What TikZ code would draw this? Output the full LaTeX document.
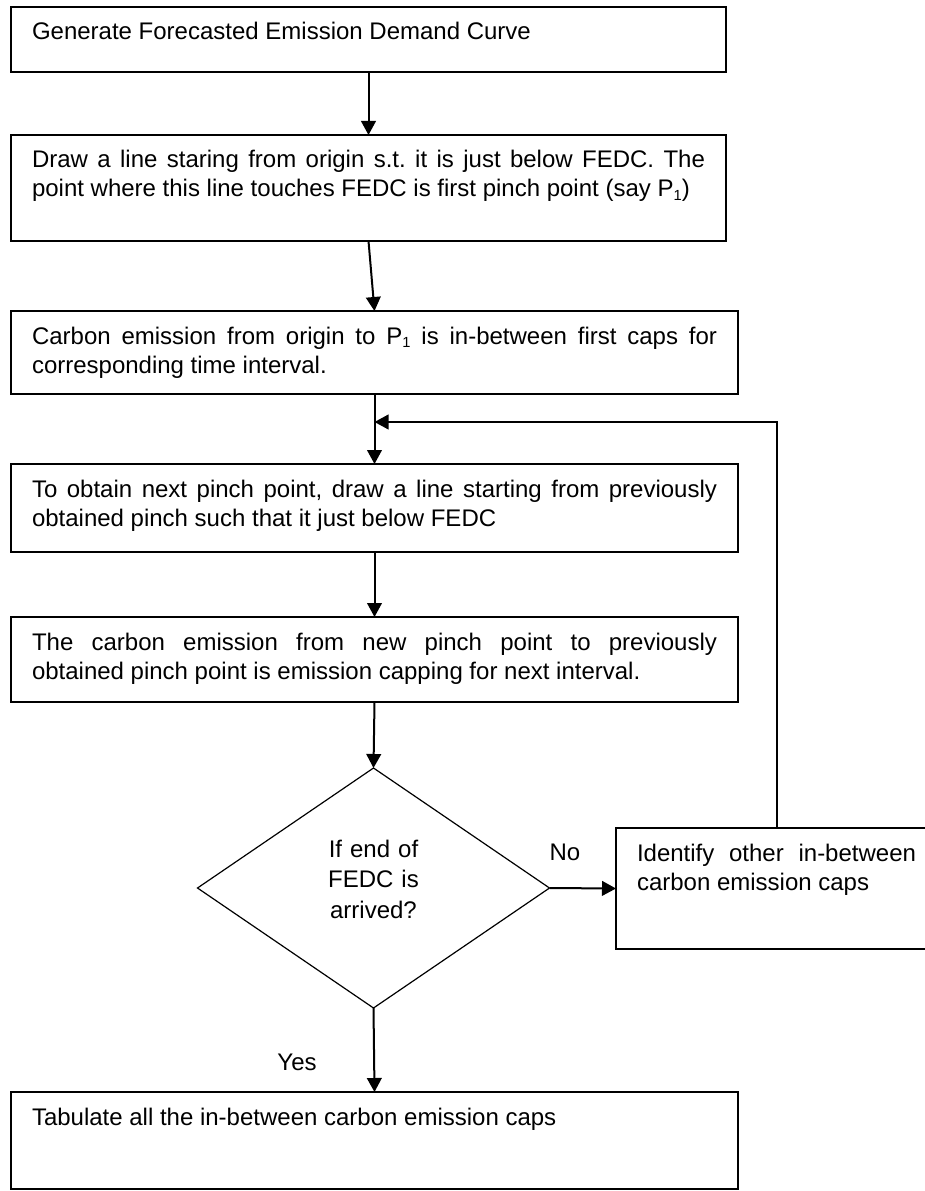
\documentclass[tikz,border=0pt]{standalone}
\usepackage{fontspec}
\setmainfont{Liberation Sans}
\usetikzlibrary{shapes.geometric,arrows.meta}
\tolerance=10000
\hbadness=10000
\frenchspacing

\tikzset{every picture/.style={line width=0.75pt}}
\tikzset{
  stepbox/.style={draw, line width=1.2pt, anchor=north west, inner xsep=15.75pt, inner ysep=0pt, outer sep=0pt, align=justify, text height=24.75pt, font=\fontsize{18pt}{21.75pt}\selectfont},
  decision/.style={diamond, draw, line width=0.9pt, inner sep=0pt, outer sep=0pt, minimum width=264pt, minimum height=180pt, text width=75pt, align=center, text height=12.75pt, text depth=59.25pt, font=\fontsize{18pt}{22.9pt}\selectfont},
  flowarrow/.style={line width=1.5pt, -{Triangle[length=10.5pt,width=11pt]}},
  answer/.style={anchor=base, inner sep=0pt, font=\fontsize{18pt}{21.75pt}\selectfont}
}
\newcommand{\sublow}[1]{\raisebox{-2.5pt}{\fontsize{11pt}{11pt}\selectfont #1}}

\begin{document}
\begin{tikzpicture}[x=0.75pt,y=0.75pt,yscale=-1,xscale=1]
	\useasboundingbox (0,0) rectangle (924,1191);

	%Flowchart: Process
	\draw (11,7) node [stepbox, text width=504.75pt, text depth=24pt] (gen) {Generate Forecasted Emission Demand Curve};
	%Flowchart: Process
	\draw (11,135) node [stepbox, text width=504.75pt, text depth=54.75pt] (pinchone) {Draw a line staring from origin s.t. it is just below FEDC. The\linebreak point where this line touches FEDC is first pinch point (say P\sublow{1})};
	%Flowchart: Process
	\draw (11,311) node [stepbox, text width=513.75pt, text depth=37.5pt] (capone) {Carbon emission from origin to P\sublow{1} is in-between first caps for\linebreak corresponding time interval.};
	%Flowchart: Process
	\draw (11,464) node [stepbox, text width=513.75pt, text depth=41.25pt] (pinchnext) {To obtain next pinch point, draw a line starting from previously\linebreak obtained pinch such that it just below FEDC};
	%Flowchart: Process
	\draw (11,617) node [stepbox, text width=513.75pt, text depth=39pt] (capnext) {The carbon emission from new pinch point to previously\linebreak obtained pinch point is emission capping for next interval.};
	%Flowchart: Decision
	\draw (373.5,888) node [decision] (check) {If end of FEDC is arrived?};
	%Flowchart: Process
	\draw (616,828) node [stepbox, text width=209.25pt, text depth=66pt] (other) {Identify other in-between\linebreak carbon emission caps};
	%Flowchart: Process
	\draw (11,1092) node [stepbox, text width=513.75pt, text depth=48pt] (tabulate) {Tabulate all the in-between carbon emission caps};

	\coordinate (merge) at (374.5,422);

	%Straight Lines
	\draw [flowarrow] (gen.south) -- (pinchone.north);
	%Straight Lines
	\draw [flowarrow] (pinchone.south) -- (capone.north);
	%Straight Lines
	\draw [flowarrow] (capone.south) -- (pinchnext.north);
	%Straight Lines
	\draw [flowarrow] (pinchnext.south) -- (capnext.north);
	%Straight Lines
	\draw [flowarrow] (capnext.south) -- (check.north);
	%Straight Lines
	\draw [flowarrow] (check.east) -- (other.west);
	%Straight Lines
	\draw [flowarrow] (check.south) -- (tabulate.north);
	%Straight Lines
	\draw [flowarrow] (other.north) |- (merge);

	% Text Node
	\draw (565,860) node [answer] (nolabel) {No};
	% Text Node
	\draw (297,1070) node [answer] (yeslabel) {Yes};

\end{tikzpicture}
\end{document}
